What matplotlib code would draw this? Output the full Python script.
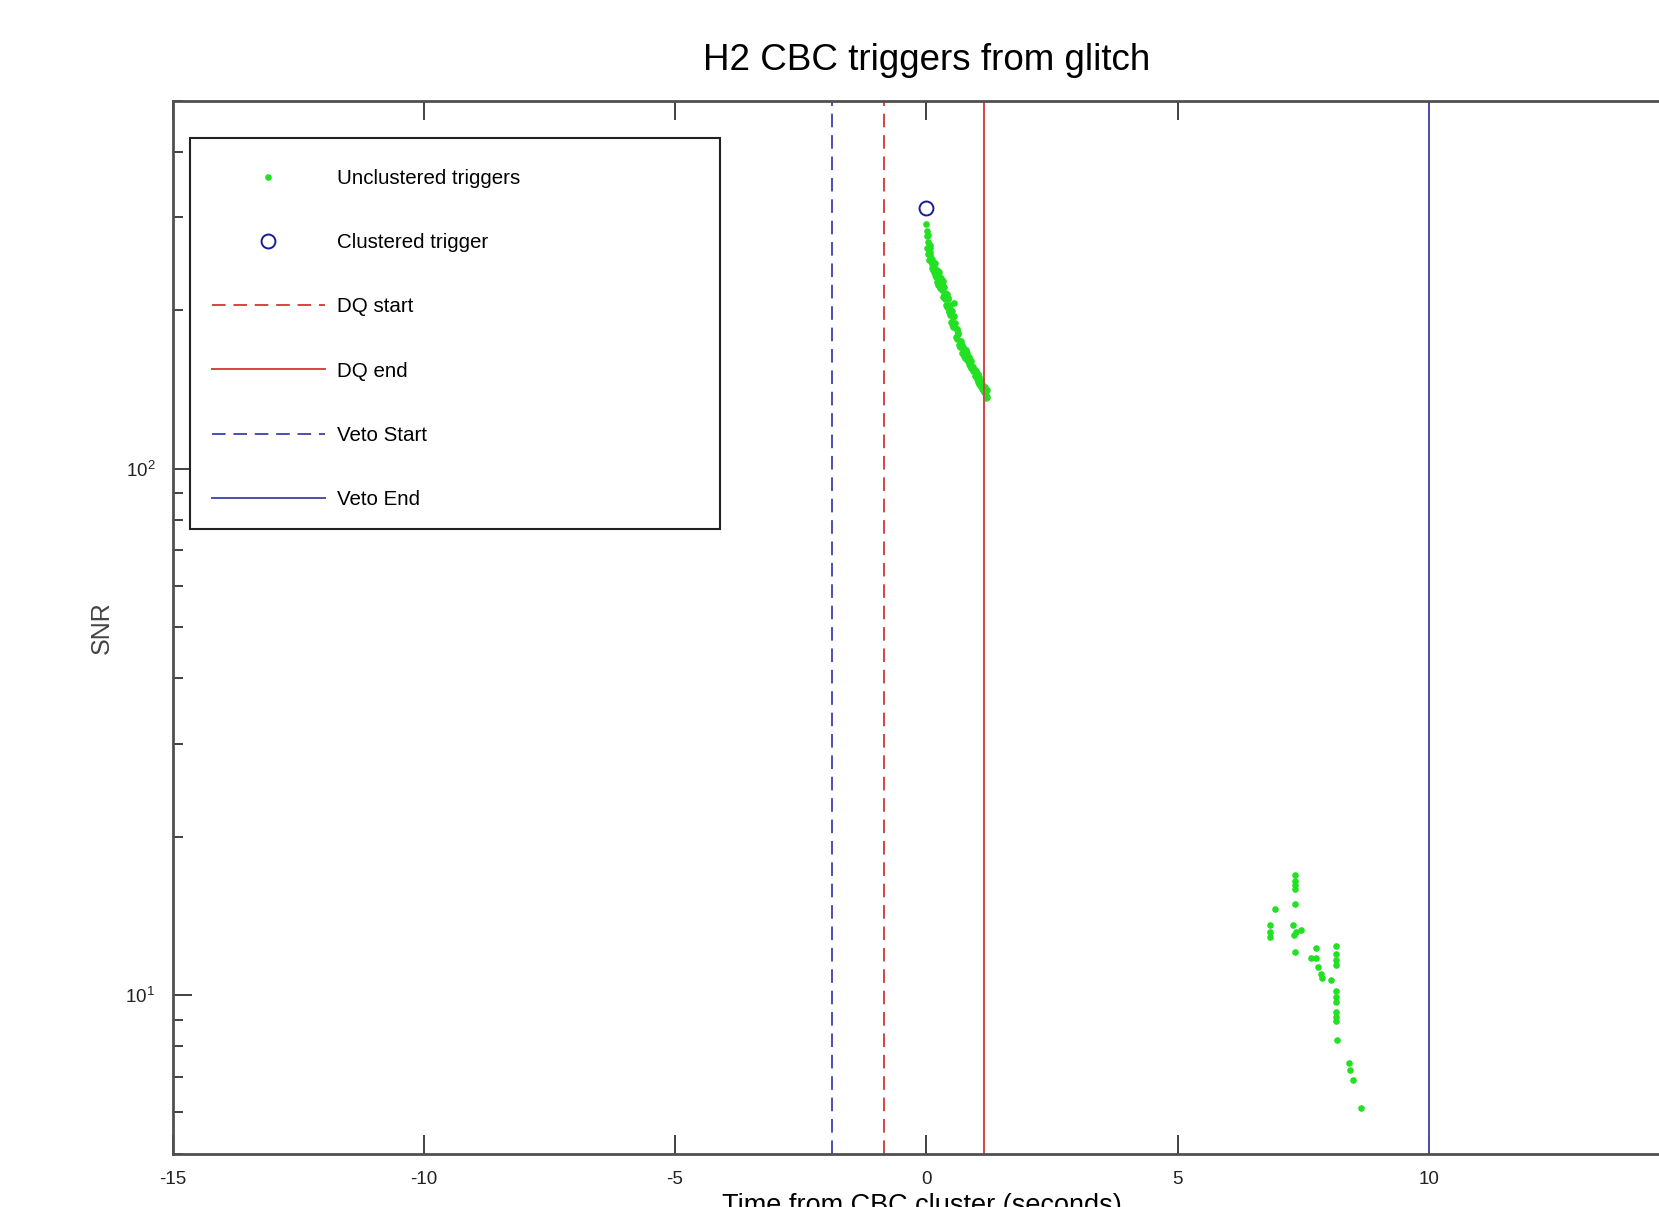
import matplotlib
matplotlib.use("Agg")
import matplotlib.pyplot as plt
from matplotlib.ticker import LogLocator, NullFormatter
from matplotlib.patches import Rectangle

plt.rcParams['font.family'] = ['Liberation Sans', 'DejaVu Sans']
plt.rcParams['axes.unicode_minus'] = False

# ---- data ----
# unclustered triggers, main glitch cluster
t_main = [0.00, 0.01, 0.02, 0.03, 0.02, 0.05, 0.04, 0.07, 0.06, 0.09, 0.08, 0.11,
          0.12, 0.10, 0.15, 0.14, 0.17, 0.19, 0.16, 0.21, 0.23, 0.20, 0.25, 0.27,
          0.24, 0.29, 0.31, 0.28, 0.33, 0.35, 0.32, 0.37, 0.40, 0.38, 0.43, 0.45,
          0.42, 0.48, 0.50, 0.47, 0.53, 0.55, 0.52, 0.58, 0.60, 0.57, 0.63, 0.66,
          0.62, 0.69, 0.72, 0.68, 0.75, 0.78, 0.74, 0.81, 0.84, 0.80, 0.87, 0.90,
          0.86, 0.93, 0.96, 0.92, 0.99, 1.02, 0.98, 1.05, 1.08, 1.04, 1.11, 1.14,
          1.10, 1.17, 1.20, 1.16, 1.21, 1.19,
          0.03, 0.05, 0.08, 0.12, 0.18, 0.22, 0.26, 0.30, 0.34, 0.36, 0.41, 0.44,
          0.46, 0.51, 0.54, 0.56, 0.61, 0.64, 0.67, 0.71, 0.73, 0.77, 0.79, 0.83,
          0.85, 0.89, 0.91, 0.95, 0.97, 1.01, 1.03, 1.07, 1.09, 1.13, 1.15, 1.18,
          0.07, 0.13, 0.24, 0.33, 0.48, 0.61, 0.76, 0.88, 1.00, 1.12]
snr_main = [291, 283, 276, 270, 262, 264, 256, 255, 249, 248, 258, 245,
            240, 250, 236, 244, 233, 236, 242, 238, 225, 231, 232, 220,
            228, 230, 218, 224, 222, 214, 226, 216, 205, 210, 211, 198,
            203, 201, 190, 196, 194, 206, 188, 186, 178, 189, 180, 172,
            176, 175, 166, 170, 169, 162, 165, 166, 158, 161, 161, 155,
            157, 156, 150, 153, 153, 146, 150, 149, 143, 145, 145, 140,
            142, 143, 137, 139, 141, 136,
            278, 259, 262, 250, 246, 226, 236, 221, 227, 221, 215, 210,
            200, 199, 186, 195, 183, 181, 171, 172, 170, 164, 168, 160,
            163, 160, 157, 154, 154, 150, 151, 144, 147, 141, 143, 138,
            266, 238, 223, 212, 205, 184, 164, 155, 148, 141]
# unclustered triggers, late cluster
t_late = [7.33, 7.33, 7.33, 7.33, 6.93, 7.33, 6.83, 6.83, 6.83, 7.30, 7.35, 7.45,
          7.32, 7.33, 7.76, 7.66, 7.76, 8.16, 8.16, 8.16, 8.16, 7.80, 7.85, 7.88,
          8.06, 8.16, 8.16, 8.16, 8.16, 8.16, 8.16, 8.18, 8.42, 8.44, 8.49, 8.65]
snr_late = [16.9, 16.5, 16.2, 15.9, 14.6, 14.9, 13.6, 13.2, 12.9, 13.6, 13.2, 13.3,
            13.0, 12.1, 12.3, 11.8, 11.8, 12.4, 12.0, 11.7, 11.4, 11.3, 11.0, 10.8,
            10.7, 10.2, 9.95, 9.7, 9.3, 9.1, 8.95, 8.23, 7.45, 7.22, 6.92, 6.11]
# clustered trigger
t_clustered = [0.0]
snr_clustered = [312]
# segment boundaries (seconds)
dq_start = -0.84
dq_end = 1.14
veto_start = -1.87
veto_end = 10.0

xlim = (-15, 15)
ylim = (5, 500)
xticks = [-15, -10, -5, 0, 5, 10]

fig = plt.figure(figsize=(16.59, 12.07), dpi=100)
ax = fig.add_axes([0.104, 0.0439, 0.9087, 0.8728])

green = '#22e022'
red = '#d44444'
blue = '#4d4db4'

ax.plot(t_main + t_late, snr_main + snr_late, linestyle='none', marker='.',
        markersize=7.5, color=green, label='Unclustered triggers')
ax.plot(t_clustered, snr_clustered, linestyle='none', marker='o', markersize=10,
        markerfacecolor='none', markeredgecolor='#1a1a99', markeredgewidth=1.4,
        label='Clustered trigger', zorder=3)
ax.axvline(dq_start, color=red, linestyle=(0, (7, 4)), lw=1.4, label='DQ start')
ax.axvline(dq_end, color=red, linestyle='-', lw=1.4, label='DQ end')
ax.axvline(veto_start, color=blue, linestyle=(0, (7, 4)), lw=1.4, label='Veto Start')
ax.axvline(veto_end, color=blue, linestyle='-', lw=1.4, label='Veto End')

ax.set_yscale('log')
ax.set_xlim(*xlim)
ax.set_ylim(*ylim)
ax.set_xticks(xticks)
ax.yaxis.set_major_locator(LogLocator(base=10))
ax.yaxis.set_minor_locator(LogLocator(base=10, subs=range(2, 10)))
ax.yaxis.set_minor_formatter(NullFormatter())

ax.tick_params(which='both', direction='in', top=True, right=True, colors='#222222',
               labelsize=13.5, width=1.2)
ax.tick_params(which='major', length=14, pad=12.5)
ax.tick_params(which='minor', length=7)
for s in ax.spines.values():
    s.set_color('#505050')
    s.set_linewidth(2)

ax.set_title('H2 CBC triggers from glitch', fontsize=26.5, pad=22)
ax.set_xlabel('Time from CBC cluster (seconds)', fontsize=19.5)
ax.xaxis.set_label_coords(0.497, -0.037)
ax.set_ylabel('SNR', fontsize=18, color='#444444', labelpad=8)

# legend frame (drawn separately so its size matches the reference)
frame = Rectangle((0.0116, 0.593), 0.3514, 0.3719, transform=ax.transAxes,
                  facecolor='white', edgecolor='#222222', linewidth=1.5, zorder=4.5)
ax.add_patch(frame)
leg = ax.legend(loc='upper left', bbox_to_anchor=(0.0259, 0.935),
                fontsize=14.8, handlelength=5.5, handletextpad=0.62,
                labelspacing=2.2, borderpad=0, frameon=False, borderaxespad=0)

fig.savefig('out.png', dpi=100)
